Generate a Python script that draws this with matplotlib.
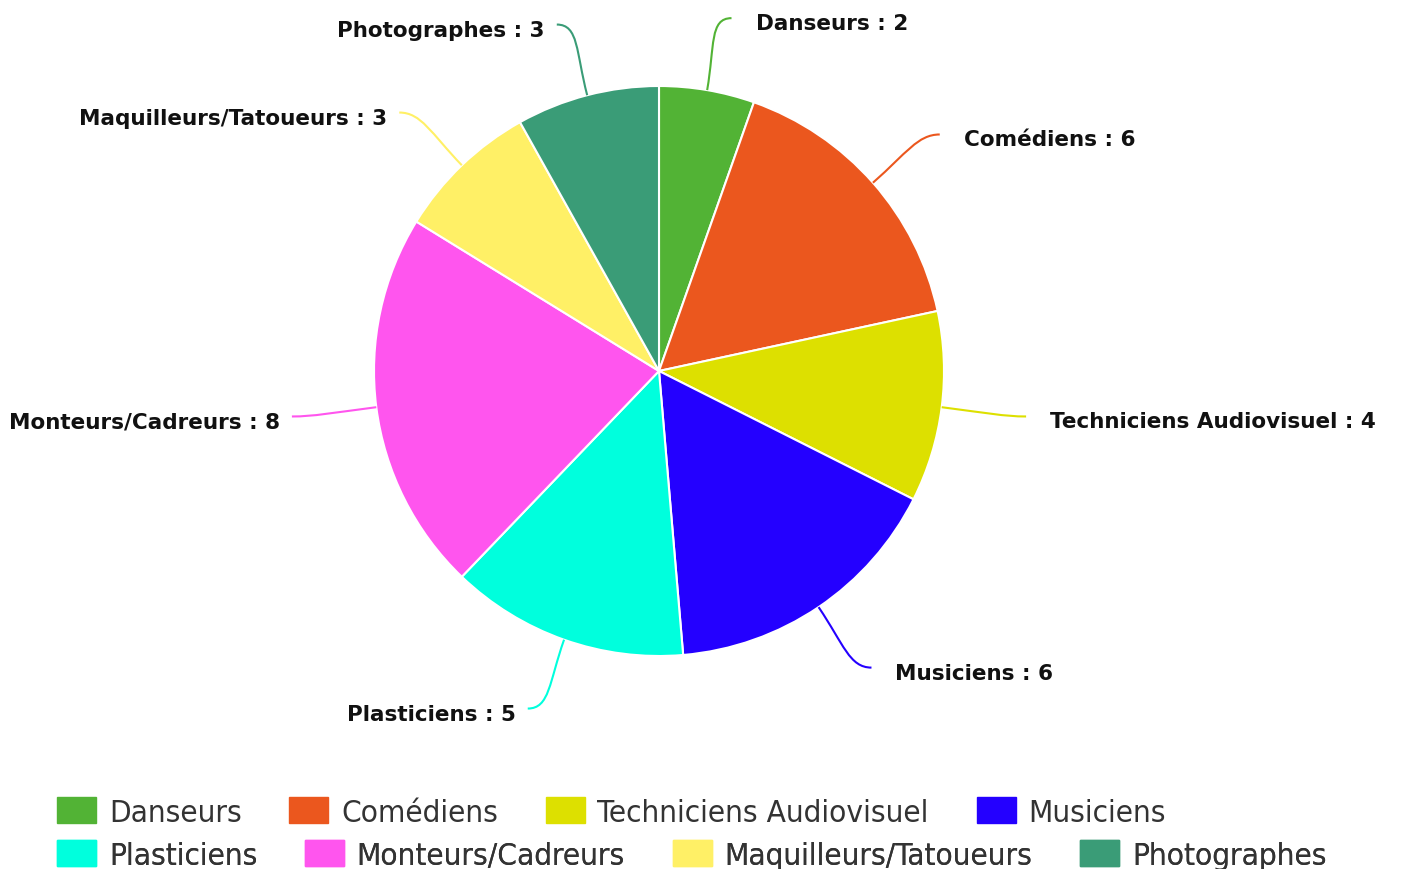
import numpy as np
import matplotlib
matplotlib.use("Agg")
import matplotlib.pyplot as plt
from matplotlib.patches import Patch
from matplotlib.path import Path
from matplotlib.patches import PathPatch

labels = ["Danseurs", "Comédiens", "Techniciens Audiovisuel", "Musiciens",
          "Plasticiens", "Monteurs/Cadreurs", "Maquilleurs/Tatoueurs", "Photographes"]
values = [2, 6, 4, 6, 5, 8, 3, 3]
colors = ["#52B335", "#EB571E", "#DDE000", "#2400FF",
          "#00FFDD", "#FF55EE", "#FFF066", "#3A9C77"]

W, H = 1406, 870
fig = plt.figure(figsize=(W / 100, H / 100), dpi=100)
ax = fig.add_axes([0, 0, 1, 1])

cx, cy, r = 659, H - 372, 285
wedges, _ = ax.pie(values, colors=colors, startangle=90, counterclock=False,
                   center=(cx, cy), radius=r, frame=True,
                   wedgeprops=dict(edgecolor="white", linewidth=1.5))
ax.set_xlim(0, W)
ax.set_ylim(0, H)
ax.set_aspect("equal")
ax.axis("off")

# labels with soft connectors (highcharts-like placement)
R = r + 73
for w, lab, val, col in zip(wedges, labels, values, colors):
    ang = np.deg2rad((w.theta1 + w.theta2) / 2)
    ca, sa = np.cos(ang), np.sin(ang)
    side = 1 if ca >= 0 else -1
    p0 = (cx + r * ca, cy + r * sa)
    p1 = (cx + (r + 45) * ca, cy + (r + 45) * sa)
    end = (cx + side * (R * abs(ca) + 12), cy + R * sa)
    p2 = (end[0] - side * 22, end[1])
    path = Path([p0, p1, p2, end], [Path.MOVETO, Path.CURVE4, Path.CURVE4, Path.CURVE4])
    ax.add_patch(PathPatch(path, fill=False, edgecolor=col, linewidth=1.5))
    tx = end[0] + (24 if side > 0 else -12)
    ax.text(tx, end[1] - 5, f"{lab} : {val}",
            ha="left" if side > 0 else "right", va="center",
            fontsize=15.5, fontweight="bold", family="DejaVu Sans", color="#111111")

# legend, two flowing rows
handles = [Patch(facecolor=c, edgecolor=c) for c in colors]
for row, y in enumerate([813, 856]):
    idx = slice(row * 4, row * 4 + 4)
    leg = ax.legend(handles[idx], labels[idx], ncol=4, frameon=False,
                    loc="center left", bbox_to_anchor=(57 / W, 1 - y / H),
                    prop=dict(family="DejaVu Sans", stretch="condensed", size=22.6),
                    handlelength=1.25, handleheight=0.9, handletextpad=0.4,
                    columnspacing=1.52, borderpad=0, borderaxespad=0,
                    labelcolor="#333333")
    ax.add_artist(leg)

fig.savefig("out.png", dpi=100)
